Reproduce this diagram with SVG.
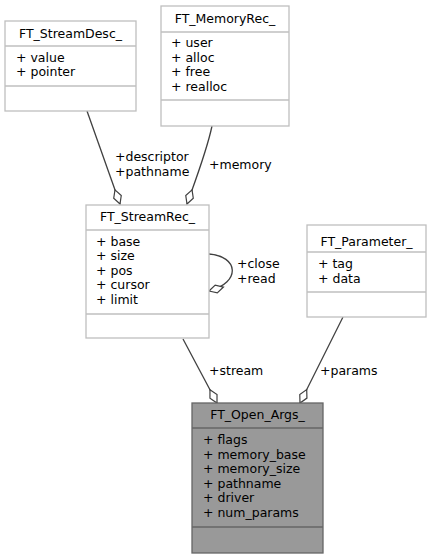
<svg xmlns="http://www.w3.org/2000/svg" width="431" height="559" viewBox="0 0 431 559">
<style>
text{font-family:"DejaVu Sans",sans-serif;font-size:12.5px;fill:#000}
.t{text-anchor:middle}
.box{fill:#fff;stroke:#bfbfbf;stroke-width:1.3}
.sep{stroke:#bfbfbf;stroke-width:1.3}
.main{fill:#999;stroke:#666;stroke-width:1.3}
.msep{stroke:#666;stroke-width:1.3}
.e{fill:none;stroke:#404040;stroke-width:1.3}
.lbl{font-size:12.5px}
</style>
<defs>
<marker id="dia" markerUnits="userSpaceOnUse" markerWidth="18" markerHeight="12" viewBox="-1 -6 17 12" refX="15" refY="0" orient="auto">
<path d="M0,0 L7.5,-4 L15,0 L7.5,4 Z" fill="#fff" stroke="#404040" stroke-width="1.2"/>
</marker>
</defs>
<g id="edges">
<path class="e" d="M87,111 L120,204" marker-end="url(#dia)"/>
<text class="lbl" x="115" y="161">+descriptor</text>
<text class="lbl" x="115" y="176">+pathname</text>
<path class="e" d="M212,126 C207,150 197,176 187,204" marker-end="url(#dia)"/>
<text class="lbl" x="209" y="169">+memory</text>
<path class="e" d="M209,254 C238,256 242,282 209,291" marker-end="url(#dia)"/>
<text class="lbl" x="237" y="268">+close</text>
<text class="lbl" x="237" y="283">+read</text>
<path class="e" d="M183,339 L217,403" marker-end="url(#dia)"/>
<text class="lbl" x="209" y="375">+stream</text>
<path class="e" d="M343,317 L300,403" marker-end="url(#dia)"/>
<text class="lbl" x="320" y="375">+params</text>
</g>
<g id="FT_StreamDesc_">
<rect class="box" x="5" y="21" width="131" height="90"/>
<line class="sep" x1="5" y1="46" x2="136" y2="46"/>
<line class="sep" x1="5" y1="86" x2="136" y2="86"/>
<text class="t" x="70.5" y="38">FT_StreamDesc_</text>
<text x="16" y="62">+ value</text>
<text x="16" y="76">+ pointer</text>
</g>
<g id="FT_MemoryRec_">
<rect class="box" x="161" y="6" width="128" height="120"/>
<line class="sep" x1="161" y1="32" x2="289" y2="32"/>
<line class="sep" x1="161" y1="100" x2="289" y2="100"/>
<text class="t" x="225" y="23">FT_MemoryRec_</text>
<text x="171" y="47">+ user</text>
<text x="171" y="62">+ alloc</text>
<text x="171" y="76">+ free</text>
<text x="171" y="91">+ realloc</text>
</g>
<g id="FT_StreamRec_">
<rect class="box" x="86" y="205" width="123" height="133"/>
<line class="sep" x1="86" y1="230" x2="209" y2="230"/>
<line class="sep" x1="86" y1="314" x2="209" y2="314"/>
<text class="t" x="147.5" y="221">FT_StreamRec_</text>
<text x="96" y="246">+ base</text>
<text x="96" y="260">+ size</text>
<text x="96" y="275">+ pos</text>
<text x="96" y="289">+ cursor</text>
<text x="96" y="304">+ limit</text>
</g>
<g id="FT_Parameter_">
<rect class="box" x="307" y="225" width="119" height="92"/>
<line class="sep" x1="307" y1="252" x2="426" y2="252"/>
<line class="sep" x1="307" y1="292" x2="426" y2="292"/>
<text class="t" x="366.5" y="246">FT_Parameter_</text>
<text x="318" y="268">+ tag</text>
<text x="318" y="283">+ data</text>
</g>
<g id="FT_Open_Args_">
<rect class="main" x="192" y="403" width="131" height="150"/>
<line class="msep" x1="192" y1="428" x2="323" y2="428"/>
<line class="msep" x1="192" y1="527" x2="323" y2="527"/>
<text class="t" x="257.5" y="419">FT_Open_Args_</text>
<text x="203" y="444">+ flags</text>
<text x="203" y="459">+ memory_base</text>
<text x="203" y="473">+ memory_size</text>
<text x="203" y="488">+ pathname</text>
<text x="203" y="502">+ driver</text>
<text x="203" y="517">+ num_params</text>
</g>
</svg>
